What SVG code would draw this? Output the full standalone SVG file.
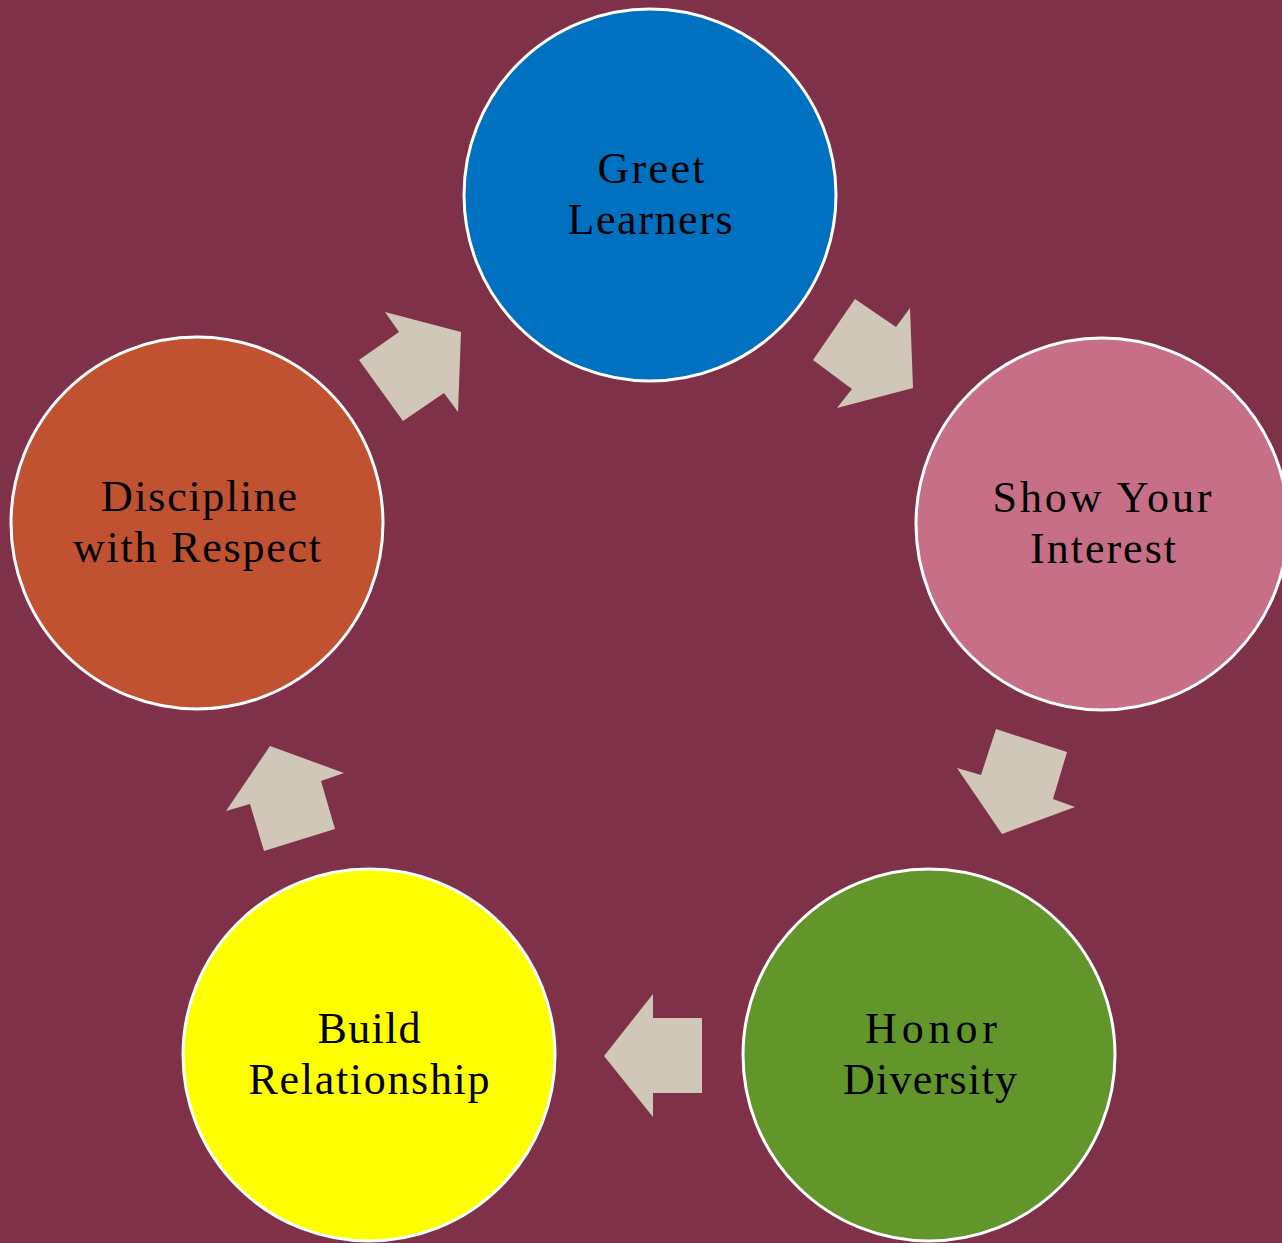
<svg xmlns="http://www.w3.org/2000/svg" width="1282" height="1243" viewBox="0 0 1282 1243">
<style>
.node circle{stroke:#FFFFFF;stroke-width:3}
.node text{font-family:"Liberation Serif","Times New Roman",serif;font-size:44px;fill:#000000;text-anchor:middle}
.arrow{fill:#D0C7B8}
</style>
<rect x="0" y="0" width="1282" height="1243" fill="#7F3149"/>
<g id="connectors">
<polygon class="arrow" points="855,299 896,327 910,308 913,388 837,408 852,389 813,360"/>
<polygon class="arrow" points="996,729 1067,752 1053,799 1075,807 1002,834 957,768 981,775"/>
<polygon class="arrow" points="604,1056 653,994 653,1018 702,1018 702,1093 653,1093 653,1117"/>
<polygon class="arrow" points="270,746 344,773 321,781 335,829 264,851 250,804 226,811"/>
<polygon class="arrow" points="385,312 461,332 458,412 444,393 403,421 359,360 399,332"/>
</g>
<g id="node-greet" class="node">
<circle cx="650" cy="195" r="186" fill="#0070C0"/>
<text x="651" y="183" textLength="107" lengthAdjust="spacing">Greet</text>
<text x="650" y="234" textLength="165" lengthAdjust="spacing">Learners</text>
</g>
<g id="node-interest" class="node">
<circle cx="1102" cy="524" r="186" fill="#C66F87"/>
<text x="1102" y="512" textLength="219" lengthAdjust="spacing">Show Your</text>
<text x="1103" y="563" textLength="146" lengthAdjust="spacing">Interest</text>
</g>
<g id="node-diversity" class="node">
<circle cx="929" cy="1055" r="186" fill="#62952A"/>
<text x="931" y="1043" textLength="132" lengthAdjust="spacing">Honor</text>
<text x="930" y="1094" textLength="174" lengthAdjust="spacing">Diversity</text>
</g>
<g id="node-relationship" class="node">
<circle cx="369" cy="1055" r="186" fill="#FFFF00"/>
<text x="369" y="1043" textLength="103" lengthAdjust="spacing">Build</text>
<text x="369" y="1094" textLength="241" lengthAdjust="spacing">Relationship</text>
</g>
<g id="node-discipline" class="node">
<circle cx="197" cy="523" r="186" fill="#C05131"/>
<text x="199" y="511" textLength="196" lengthAdjust="spacing">Discipline</text>
<text x="197" y="562" textLength="248" lengthAdjust="spacing">with Respect</text>
</g>
</svg>
